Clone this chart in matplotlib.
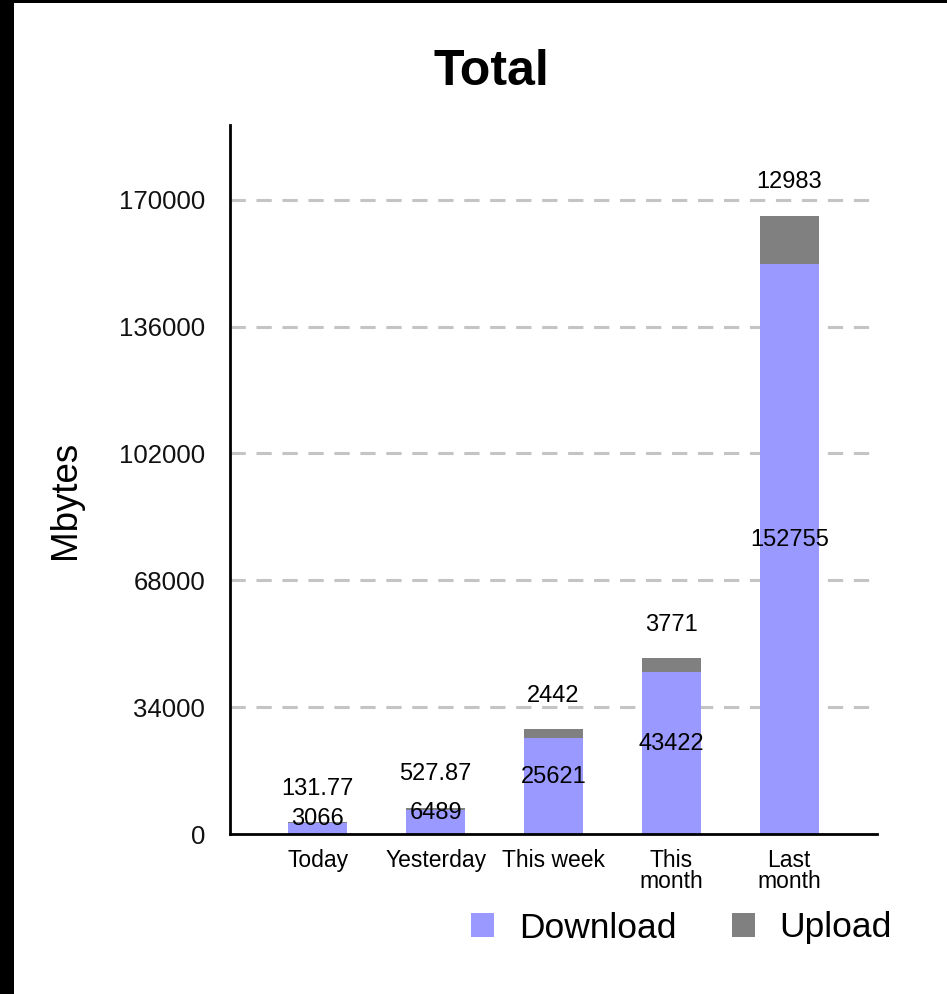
import matplotlib
matplotlib.use("Agg")
import matplotlib.pyplot as plt
from matplotlib.patches import Patch, Rectangle

# Traffic totals in megabytes
categories = ["Today", "Yesterday", "This week", "This\nmonth", "Last\nmonth"]
download = [3066, 6489, 25621, 43422, 152755]
upload = [131.77, 527.87, 2442, 3771, 12983]
upload_labels = ["131.77", "527.87", "2442", "3771", "12983"]
yticks = [0, 34000, 68000, 102000, 136000, 170000]

DL_COLOR = "#9999ff"
UL_COLOR = "#808080"

plt.rcParams["font.family"] = ["Liberation Sans", "DejaVu Sans"]

fig = plt.figure(figsize=(9.47, 9.94), dpi=100)
fig.patch.set_facecolor("white")

# dark frame strips along the left and top edges
fig.add_artist(Rectangle((0, 0), 14 / 947, 1, transform=fig.transFigure,
                         facecolor="black", edgecolor="none", zorder=10))
fig.add_artist(Rectangle((0, 1 - 3 / 994), 1, 3 / 994, transform=fig.transFigure,
                         facecolor="black", edgecolor="none", zorder=10))

ax = fig.add_axes([230 / 947, 160 / 994, 647 / 947, 709 / 994])

x = list(range(len(categories)))
width = 0.5
ax.bar(x, download, width, color=DL_COLOR, zorder=3)
ax.bar(x, upload, width, bottom=download, color=UL_COLOR, zorder=3)

ax.set_xlim(-0.745, len(categories) - 1 + 0.745)
ax.set_ylim(0, 190000)

ax.set_yticks(yticks)
ax.set_yticklabels([str(v) for v in yticks])
ax.set_xticks(x)
ax.set_xticklabels(categories, linespacing=0.85)
ax.tick_params(axis="y", length=0, pad=18, labelsize=18.5, labelcolor="#111111")
ax.tick_params(axis="x", length=0, pad=11, labelsize=16.5)

for yv in yticks[1:]:
    ax.plot([-0.745, len(categories) - 1 + 0.69], [yv, yv], color="#c4c4c4",
            lw=2.2, dashes=(5, 3.5), zorder=1, clip_on=False)

for side in ("top", "right"):
    ax.spines[side].set_visible(False)
for side in ("left", "bottom"):
    ax.spines[side].set_linewidth(2)
    ax.spines[side].set_color("black")
    ax.spines[side].set_zorder(5)

# value labels: download inside the bar, upload above the stack
for xi, d, u, ul in zip(x, download, upload, upload_labels):
    ax.annotate(str(d), (xi, d / 2), xytext=(0, -1.5), textcoords="offset points",
                ha="center", va="bottom", fontsize=17, zorder=6)
    ax.annotate(ul, (xi, d + u), xytext=(0, 24), textcoords="offset points",
                ha="center", va="center", fontsize=17, zorder=6)

ax.set_ylabel("Mbytes", fontsize=26.5)
ax.yaxis.set_label_coords(-147 / 647, (834 - 500) / 709)

fig.text(491 / 947, 1 - 72 / 994, "Total", ha="center", va="center",
         fontsize=36, fontweight="bold")

handles = [Patch(facecolor=DL_COLOR, label="Download"),
           Patch(facecolor=UL_COLOR, label="Upload")]
fig.legend(handles=handles, loc="center right", bbox_to_anchor=(906 / 947, 1 - 928 / 994),
           ncol=2, frameon=False, fontsize=25.5, handlelength=0.65, handleheight=0.65,
           handletextpad=0.7, columnspacing=1.55, borderaxespad=0)

fig.savefig("out.png", dpi=100, facecolor="white")
